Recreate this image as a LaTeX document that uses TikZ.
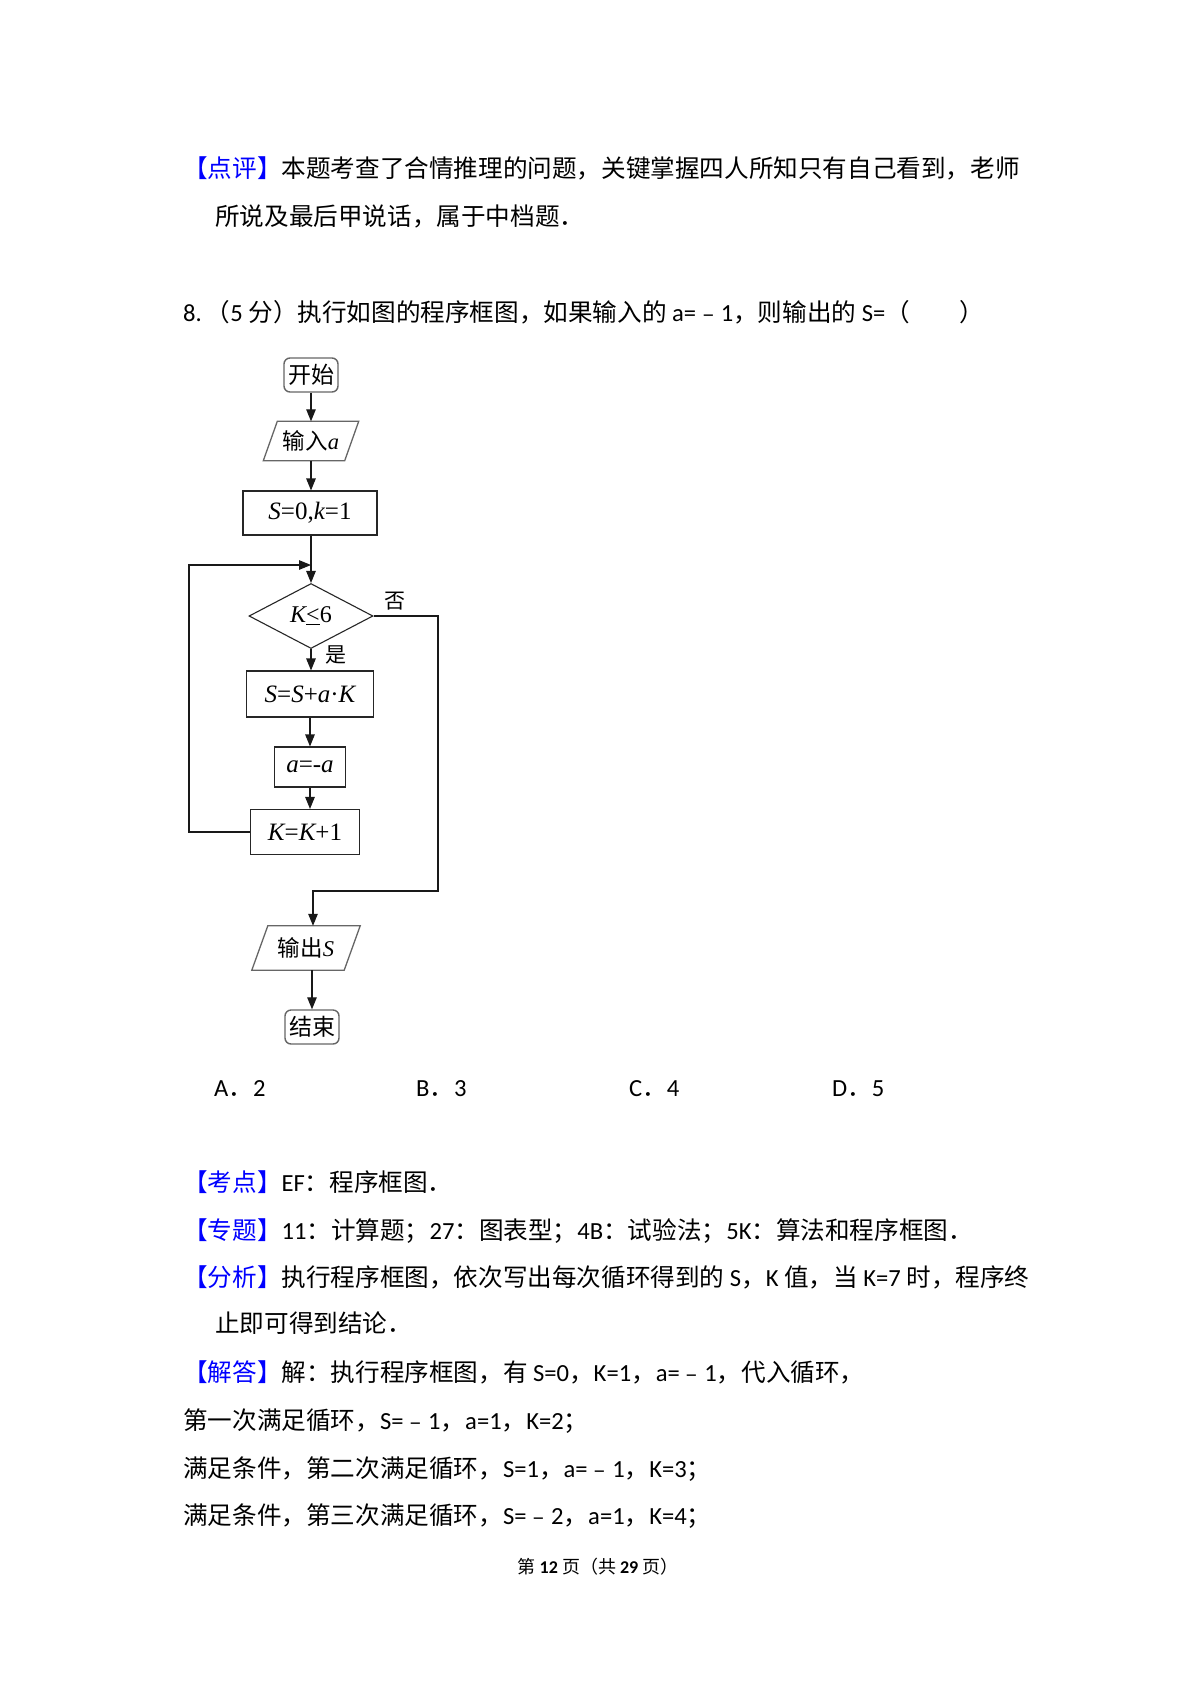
\documentclass[tikz,border=0pt]{standalone}
\usepackage{fontspec}
\setmainfont{Noto Sans CJK SC}
\newfontfamily\lat{Carlito}
\newfontfamily\tnr{Liberation Serif}
\usetikzlibrary{arrows.meta,shapes.geometric}
\definecolor{hdblue}{RGB}{0,0,255}
\newcommand{\la}[1]{{\lat #1}}
\newcommand{\hd}[1]{\textcolor{hdblue}{【#1】}}
\newcommand{\mi}[1]{{\tnr\itshape #1}}
\newcommand{\mr}[1]{{\tnr #1}}
\begin{document}
\begin{tikzpicture}[x=1pt,y=-1pt,
  body/.style={anchor=base west, inner sep=0pt, font=\fontsize{24.6}{30}\selectfont},
  foot/.style={inner sep=0pt, font=\fontsize{18}{20}\selectfont},
  term/.style={draw=black!60, line width=1.4pt, rounded corners=6pt, inner sep=0pt, font=\fontsize{23}{25}\selectfont},
  procbox/.style={draw=black!85, line width=1.1pt, inner sep=0pt, font=\fontsize{25}{27}\selectfont},
  iobox/.style={inner sep=0pt, font=\fontsize{22.5}{25}\selectfont},
  iodraw/.style={draw=black!60, line width=1.3pt, line join=miter},
  dia/.style={diamond, draw=black!85, line width=1.1pt, inner sep=0pt, aspect=1.9, font=\fontsize{24}{26}\selectfont},
  lab/.style={inner sep=0pt, font=\fontsize{21}{23}\selectfont},
  arr/.style={line width=1.1pt, draw=black!90, -{Triangle[length=12pt,width=9.5pt]}},
  ln/.style={line width=1.1pt, draw=black!90}
]
\fill[white] (0,0) rectangle (1200,1700);
\useasboundingbox (0,0) rectangle (1200,1700);

% ---- text ----
\node[body] (t1) at (183,177) {\hd{点评}本题考查了合情推理的问题，关键掌握四人所知只有自己看到，老师};
\node[body] (t2) at (215,225) {所说及最后甲说话，属于中档题．};
\node[body] (t3) at (183,321) {\la{8.}\hspace{4pt}（\la{5} 分）执行如图的程序框图，如果输入的 \la{a=}﹣\la{1}，则输出的 \la{S=}（　　）};

\node[body] (ca) at (214,1096) {\la{A}．\la{2}};
\node[body] (cb) at (416,1096) {\la{B}．\la{3}};
\node[body] (cc) at (629,1096) {\la{C}．\la{4}};
\node[body] (cd) at (832,1096) {\la{D}．\la{5}};

\node[body] (t4) at (183,1191) {\hd{考点}\la{EF}：程序框图．};
\node[body] (t5) at (183,1239) {\hd{专题}\la{11}：计算题；\la{27}：图表型；\la{4B}：试验法；\la{5K}：算法和程序框图．};
\node[body] (t6) at (183,1286) {\hd{分析}执行程序框图，依次写出每次循环得到的 \la{S}，\la{K} 值，当 \la{K=7} 时，程序终};
\node[body] (t7) at (215,1332) {止即可得到结论．};
\node[body] (t8) at (183,1381) {\hd{解答}解：执行程序框图，有 \la{S=0}，\la{K=1}，\la{a=}﹣\la{1}，代入循环，};
\node[body] (t9) at (183,1429) {第一次满足循环，\la{S=}﹣\la{1}，\la{a=1}，\la{K=2}；};
\node[body] (t10) at (183,1477) {满足条件，第二次满足循环，\la{S=1}，\la{a=}﹣\la{1}，\la{K=3}；};
\node[body] (t11) at (183,1524) {满足条件，第三次满足循环，\la{S=}﹣\la{2}，\la{a=1}，\la{K=4}；};
\node[foot] (ft) at (598,1567) {第 \la{\bfseries 12} 页（共 \la{\bfseries 29} 页）};

% ---- flowchart ----
\node[term, minimum width=54pt, minimum height=34pt] (st) at (311,375) {开始};
\node[iobox, minimum width=81pt, minimum height=39pt] (in) at (311,441) {输入\mi{a}};
\draw[iodraw] ([xshift=7pt]in.north west) -- ([xshift=7pt]in.north east) -- ([xshift=-7pt]in.south east) -- ([xshift=-7pt]in.south west) -- cycle;
\node[procbox, minimum width=134pt, minimum height=44pt] (init) at (310,513) {\mi{S}\mr{=0,}\mi{k}\mr{=1}};
\node[dia, minimum width=124pt, minimum height=65pt] (d) at (311,616) {\mi{K}\underline{\mr{<}}\mr{6}};
\node[procbox, minimum width=127pt, minimum height=46pt] (sb) at (310,694) {\mi{S}\mr{=}\mi{S}\mr{+}\mi{a}\mr{·}\mi{K}\hspace{10pt}};
\node[procbox, minimum width=71pt, minimum height=40pt] (aa) at (310,767) {\mi{a}\mr{=-}\mi{a}};
\node[procbox, minimum width=109pt, minimum height=45pt] (kk) at (305,832) {\mi{K}\mr{=}\mi{K}\mr{+1}};
\node[iobox, minimum width=92pt, minimum height=44pt] (out) at (306,948) {输出\mi{S}};
\draw[iodraw] ([xshift=8pt]out.north west) -- ([xshift=8pt]out.north east) -- ([xshift=-8pt]out.south east) -- ([xshift=-8pt]out.south west) -- cycle;
\node[term, minimum width=54pt, minimum height=34pt] (en) at (312,1027) {结束};

\node[lab] (no) at (395,601) {否};
\node[lab] (yes) at (336,655) {是};

\coordinate (j1) at (311,565);
\coordinate (lft) at (189,565);
\coordinate (rt) at (438,891);
\coordinate (j2) at (313,891);

\draw[arr] (st.south) -- (st.south |- in.north);
\draw[arr] (in.south) -- (in.south |- init.north);
\draw[arr] (init.south -| d.north) -- (d.north);
\draw[arr] (d.south) -- (d.south |- sb.north);
\draw[arr] (sb.south) -- (sb.south |- aa.north);
\draw[arr] (aa.south) -- (aa.south |- kk.north);
\draw[arr] (kk.west) -- (kk.west -| lft) -- (lft) -- (j1);
\draw[arr] (d.east) -| (rt) -- (j2) -- (j2 |- out.north);
\draw[arr] (out.south -| en.north) -- (en.north);
\end{tikzpicture}
\end{document}
